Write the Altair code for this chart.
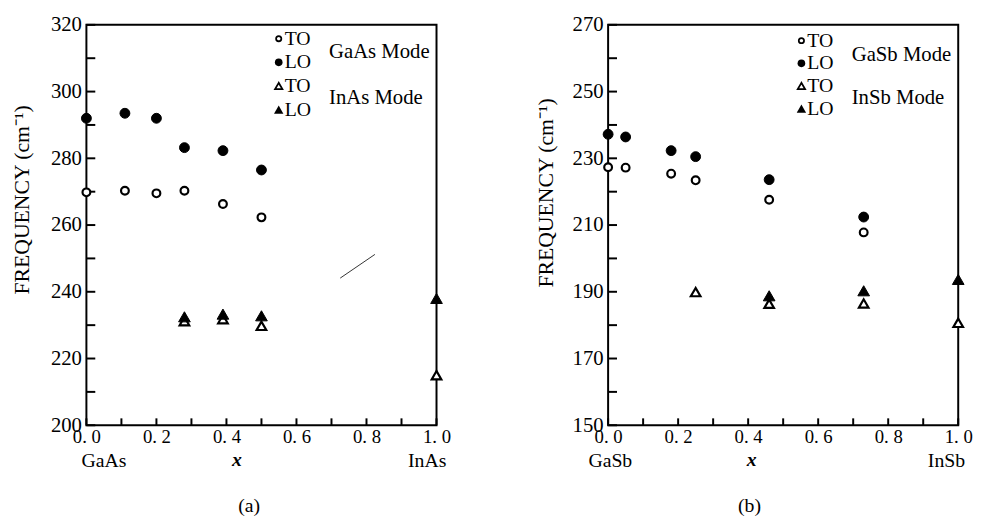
import altair as alt
import pandas as pd

FONT = "Liberation Serif"

# ---------------- Panel (a): Ga(1-x)In(x)As ----------------
gaas_x = [0.0, 0.11, 0.2, 0.28, 0.39, 0.5]
gaas_to = [269.8, 270.3, 269.5, 270.3, 266.3, 262.3]
gaas_lo = [292.0, 293.5, 292.0, 283.2, 282.3, 276.5]
inas_x = [0.28, 0.39, 0.5, 1.0]
inas_to = [231.2, 231.8, 229.8, 215.0]
inas_lo = [232.5, 233.3, 232.8, 238.0]
scan_mark_x = [0.725, 0.824]
scan_mark_y = [244.1, 251.2]

ya_labels = [200, 220, 240, 260, 280, 300, 320]
ya_ticks = [200, 210, 220, 230, 240, 250, 260, 270, 280, 290, 300, 310, 320]

# ---------------- Panel (b): Ga(1-x)In(x)Sb ----------------
gasb_x = [0.0, 0.05, 0.18, 0.25, 0.46, 0.73]
gasb_to = [227.3, 227.2, 225.4, 223.4, 217.6, 207.8]
gasb_lo = [237.2, 236.4, 232.3, 230.5, 223.6, 212.4]
insb_to_x = [0.25, 0.46, 0.73, 1.0]
insb_to = [189.9, 186.4, 186.5, 180.7]
insb_lo_x = [0.46, 0.73, 1.0]
insb_lo = [188.8, 190.3, 193.7]

yb_labels = [150, 170, 190, 210, 230, 250, 270]
yb_ticks = [150, 160, 170, 180, 190, 200, 210, 220, 230, 240, 250, 260, 270]

x_labels = [0.0, 0.2, 0.4, 0.6, 0.8, 1.0]
x_ticks = [0.0, 0.1, 0.2, 0.3, 0.4, 0.5, 0.6, 0.7, 0.8, 0.9, 1.0]

legend_labels = ["TO", "LO", "TO", "LO"]
legend_shapes = ["circle", "circle", "triangle-up", "triangle-up"]
legend_filled = [False, True, False, True]

W, H = 355, 406
Y_TITLE = "FREQUENCY  (cm\u207b\u00b9)"


def panel(cfg):
    xs = alt.Scale(domain=[0, 1], nice=False, zero=False)
    ys = alt.Scale(domain=cfg["ydom"], nice=False, zero=False)
    xaxis = alt.Axis(values=x_labels, ticks=False, domain=False, grid=False,
                     labelExpr="replace(format(datum.value, '.1f'), '.', '. ')",
                     labelFont=FONT, labelFontSize=19, labelColor="black",
                     labelPadding=3, labelFlush=False, labelOverlap=False, title=None)
    yaxis = alt.Axis(values=cfg["ylabels"], ticks=False, domain=False, grid=False,
                     format="d", labelFont=FONT, labelFontSize=21, labelColor="black",
                     labelPadding=5, labelFlush=False, labelOverlap=False,
                     title=Y_TITLE, titleFont=FONT, titleFontSize=22,
                     titleFontWeight="normal", titleColor="black", titleAngle=270,
                     titleAlign="center", titleBaseline="middle",
                     titleX=cfg["title_x"], titleY=cfg["title_y"])

    def X(field):
        return alt.X(field, scale=xs, axis=xaxis)

    def Y(field):
        return alt.Y(field, scale=ys, axis=yaxis)

    layers = []
    # inward ticks
    layers.append(alt.Chart(pd.DataFrame({"v": cfg["yticks"]})).mark_rule(
        color="black", strokeWidth=2).encode(
        y=Y("v:Q"), x=alt.value(0), x2=alt.value(9)))
    layers.append(alt.Chart(pd.DataFrame({"v": x_ticks})).mark_rule(
        color="black", strokeWidth=2).encode(
        x=X("v:Q"), y=alt.value(H), y2=alt.value(H - 7)))

    series = [
        (cfg["c_x"], cfg["c_to"], "circle", False, 62),
        (cfg["c_x"], cfg["c_lo"], "circle", True, 100),
        (cfg["t_to_x"], cfg["t_to"], "triangle-up", False, 95),
        (cfg["t_lo_x"], cfg["t_lo"], "triangle-up", True, 140),
    ]
    for xv, yv, shp, fil, sz in series:
        df = pd.DataFrame({"x": xv, "freq": yv})
        layers.append(alt.Chart(df).mark_point(
            shape=shp, filled=True, size=sz, fill="black" if fil else "white",
            stroke="black", strokeWidth=2.2 if not fil else 1, opacity=1
        ).encode(x=X("x:Q"), y=Y("freq:Q")))

    if cfg.get("scan_x"):
        sdf = pd.DataFrame({"x1": [cfg["scan_x"][0]], "x2": [cfg["scan_x"][1]],
                            "y1": [cfg["scan_y"][0]], "y2": [cfg["scan_y"][1]]})
        layers.append(alt.Chart(sdf).mark_rule(color="#333333", strokeWidth=1).encode(
            x=X("x1:Q"), x2="x2:Q", y=Y("y1:Q"), y2="y2:Q"))

    # legend
    leg_sizes = [28, 60, 55, 90]
    for i in range(4):
        ldf = pd.DataFrame({"label": [legend_labels[i]]})
        layers.append(alt.Chart(ldf).mark_point(
            shape=legend_shapes[i], filled=legend_filled[i], size=leg_sizes[i],
            color="black", strokeWidth=1.8, opacity=1).encode(
            x=alt.value(cfg["leg_mx"]), y=alt.value(cfg["leg_rows"][i])))
        layers.append(alt.Chart(ldf).mark_text(
            align="left", baseline="middle", font=FONT, fontSize=20, color="black").encode(
            x=alt.value(cfg["leg_mx"] + 6), y=alt.value(cfg["leg_rows"][i]), text="label:N"))
    for name, yy in zip(cfg["modes"], cfg["mode_rows"]):
        layers.append(alt.Chart(pd.DataFrame({"label": [name]})).mark_text(
            align="left", baseline="middle", font=FONT, fontSize=21, color="black").encode(
            x=alt.value(cfg["mode_x"]), y=alt.value(yy), text="label:N"))

    # end-member labels, x label, panel letter
    ends = cfg["ends"]
    layers.append(alt.Chart(pd.DataFrame({"x": [0.0], "label": [ends[0]]})).mark_text(
        align="left", baseline="middle", font=FONT, fontSize=20, color="black",
        dx=cfg["end_dx"][0]).encode(
        x=X("x:Q"), y=alt.value(H + 36), text="label:N"))
    layers.append(alt.Chart(pd.DataFrame({"x": [1.0], "label": [ends[1]]})).mark_text(
        align="right", baseline="middle", font=FONT, fontSize=20, color="black",
        dx=cfg["end_dx"][1]).encode(
        x=X("x:Q"), y=alt.value(H + 36), text="label:N"))
    layers.append(alt.Chart(pd.DataFrame({"x": [cfg["xvar_pos"]], "label": ["x"]})).mark_text(
        align="center", baseline="middle", font=FONT, fontSize=20, fontStyle="italic",
        fontWeight="bold", color="black").encode(
        x=X("x:Q"), y=alt.value(H + 35), text="label:N"))
    layers.append(alt.Chart(pd.DataFrame({"x": [cfg["letter_pos"]], "label": [cfg["letter"]]})).mark_text(
        align="center", baseline="middle", font=FONT, fontSize=20, color="black").encode(
        x=X("x:Q"), y=alt.value(H + 82), text="label:N"))

    return alt.layer(*layers).properties(width=W, height=H)


left = panel(dict(
    ydom=[200, 320], ylabels=ya_labels, yticks=ya_ticks,
    c_x=gaas_x, c_to=gaas_to, c_lo=gaas_lo,
    t_to_x=inas_x, t_to=inas_to, t_lo_x=inas_x, t_lo=inas_lo,
    scan_x=scan_mark_x, scan_y=scan_mark_y,
    title_x=-66, title_y=177,
    leg_mx=195, leg_rows=[14, 38, 62, 86], modes=["GaAs  Mode", "InAs  Mode"],
    mode_x=246, mode_rows=[28, 74],
    ends=["GaAs", "InAs"], end_dx=[-5, 10], xvar_pos=0.43,
    letter="(a)", letter_pos=0.465))

right = panel(dict(
    ydom=[150, 270], ylabels=yb_labels, yticks=yb_ticks,
    c_x=gasb_x, c_to=gasb_to, c_lo=gasb_lo,
    t_to_x=insb_to_x, t_to=insb_to, t_lo_x=insb_lo_x, t_lo=insb_lo,
    title_x=-63, title_y=170,
    leg_mx=196, leg_rows=[16, 39, 62, 85], modes=["GaSb  Mode", "InSb  Mode"],
    mode_x=247, mode_rows=[31, 74],
    ends=["GaSb", "InSb"], end_dx=[-20, 7], xvar_pos=0.41,
    letter="(b)", letter_pos=0.404))

chart = alt.hconcat(left, right, spacing=83).properties(
    padding={"left": 1.5, "top": 1.5, "right": 0, "bottom": 0},
    background="white",
).configure_view(stroke="black", strokeWidth=2)

chart.save("out.html", embed_options={"renderer": "svg", "actions": False})
